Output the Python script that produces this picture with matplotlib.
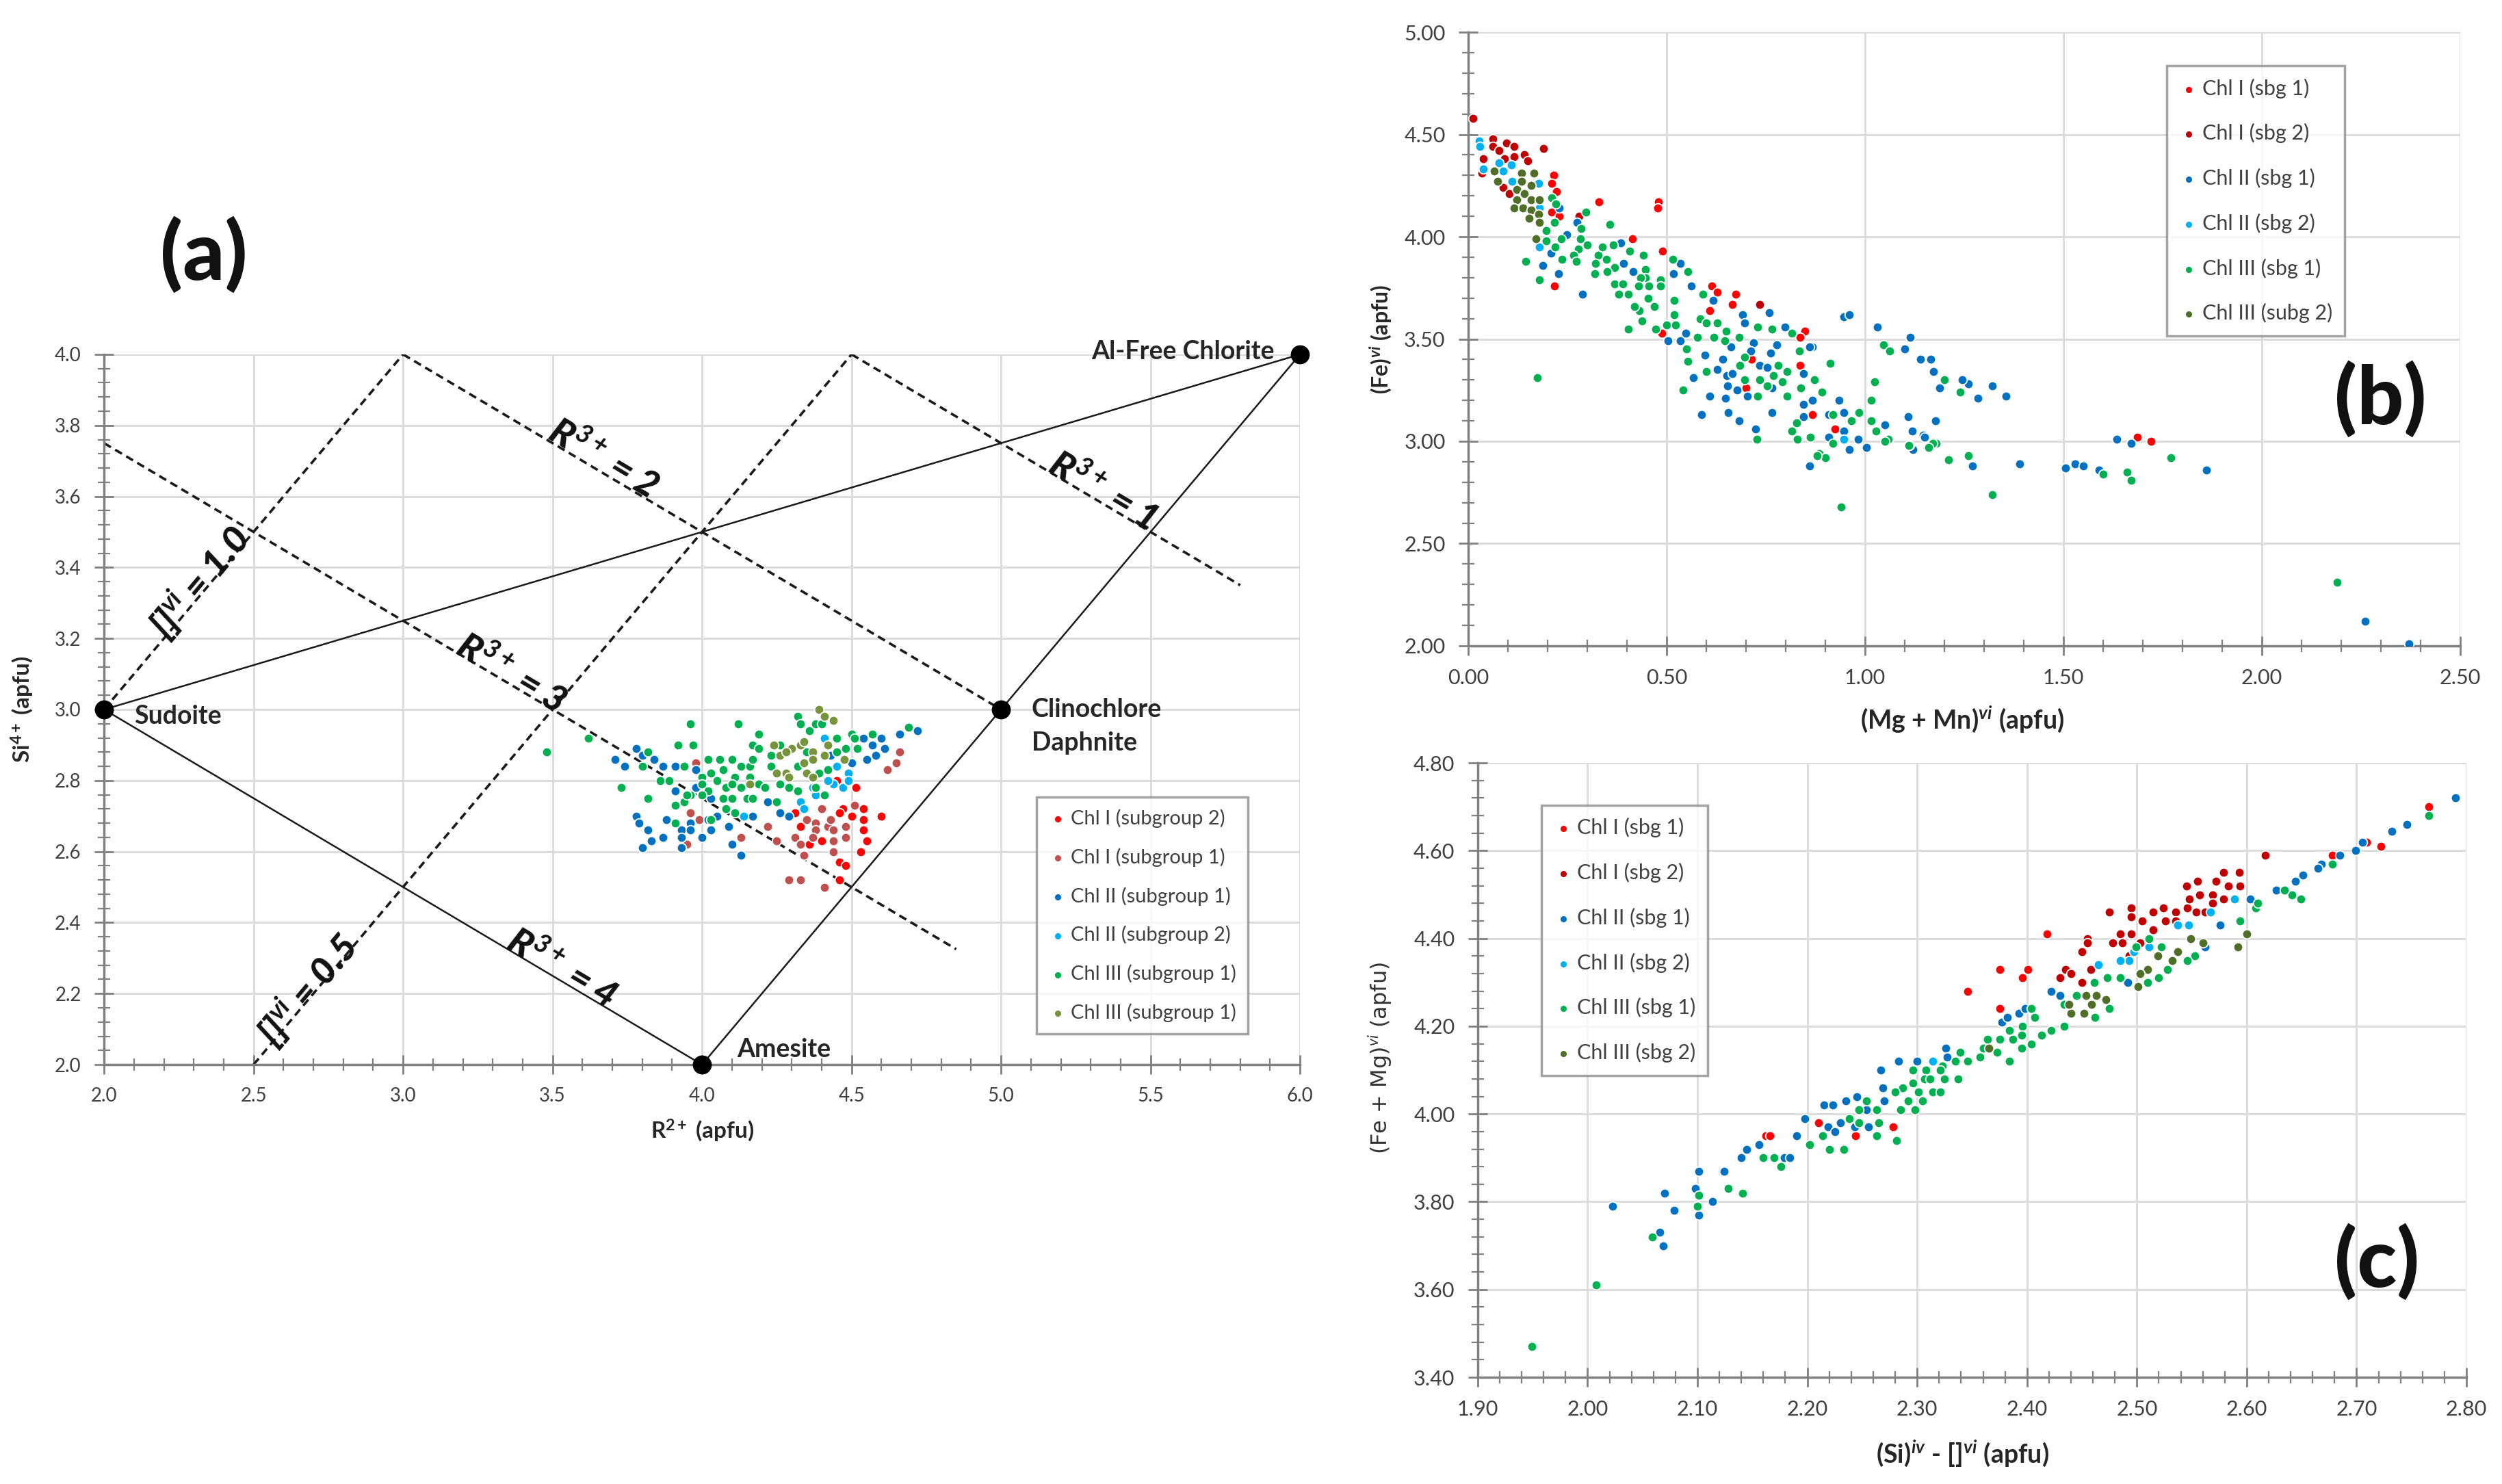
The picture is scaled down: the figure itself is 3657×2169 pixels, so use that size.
import numpy as np
import matplotlib
matplotlib.use("Agg")
import matplotlib.pyplot as plt
from matplotlib.ticker import MultipleLocator, FormatStrFormatter

plt.rcParams['font.family'] = ['Lato', 'DejaVu Sans']
plt.rcParams['mathtext.fontset'] = 'custom'
plt.rcParams['mathtext.rm'] = 'Lato'
plt.rcParams['mathtext.it'] = 'Lato:italic'
plt.rcParams['mathtext.bf'] = 'Lato:bold'
plt.rcParams['mathtext.bfit'] = 'Lato:bold:italic'

# ---------------- panel (a): R2+ vs Si4+ ----------------
a_chl1_sg2_x = [4.515, 4.47, 4.46, 4.50, 4.54, 4.54, 4.60, 4.54, 4.55, 4.53, 4.46, 4.48, 4.46, 4.31, 4.40, 4.36, 4.33, 4.45]
a_chl1_sg2_y = [2.78, 2.72, 2.71, 2.70, 2.72, 2.69, 2.70, 2.66, 2.63, 2.60, 2.57, 2.56, 2.52, 2.71, 2.63, 2.62, 2.67, 2.80]
a_chl1_sg1_x = [3.96, 3.99, 3.95, 4.22, 4.13, 4.25, 4.31, 4.33, 4.35, 4.34, 4.38, 4.42, 4.44, 4.48, 4.40, 4.43, 4.51, 4.48, 4.44, 4.38, 4.44, 4.29, 4.33, 4.41, 4.66, 4.65, 4.62, 3.98, 4.37]
a_chl1_sg1_y = [2.71, 2.69, 2.62, 2.67, 2.64, 2.63, 2.64, 2.62, 2.69, 2.59, 2.68, 2.67, 2.66, 2.67, 2.72, 2.69, 2.73, 2.64, 2.63, 2.66, 2.60, 2.52, 2.52, 2.50, 2.88, 2.85, 2.83, 2.85, 2.64]
a_chl2_sg1_x = [3.78, 3.80, 3.84, 3.71, 3.74, 3.87, 3.91, 3.98, 3.91, 3.78, 3.79, 3.88, 3.82, 3.83, 3.87, 3.80, 3.93, 3.93, 3.93, 3.96, 3.96, 4.00, 4.03, 4.02, 4.05, 4.09, 4.10, 4.13, 4.17, 4.22, 4.26, 4.29, 3.98, 4.03, 4.54, 4.57, 4.61, 4.60, 4.55, 4.58, 4.66, 4.72, 4.50, 4.43]
a_chl2_sg1_y = [2.89, 2.87, 2.86, 2.86, 2.84, 2.84, 2.84, 2.83, 2.77, 2.70, 2.68, 2.69, 2.66, 2.63, 2.64, 2.61, 2.66, 2.64, 2.61, 2.68, 2.66, 2.64, 2.66, 2.69, 2.70, 2.67, 2.62, 2.59, 2.70, 2.74, 2.71, 2.70, 2.78, 2.75, 2.92, 2.90, 2.89, 2.92, 2.86, 2.87, 2.93, 2.94, 2.85, 2.87]
a_chl2_sg2_x = [4.41, 4.45, 4.49, 4.47, 4.44, 4.42, 4.38, 4.33, 4.34, 4.37, 4.14, 4.49]
a_chl2_sg2_y = [2.92, 2.84, 2.82, 2.78, 2.79, 2.80, 2.76, 2.74, 2.72, 2.78, 2.70, 2.80]
a_chl3_sg1_x = [3.48, 3.62, 3.96, 4.12, 3.73, 3.82, 3.92, 3.97, 3.82, 3.80, 3.86, 3.89, 3.94, 3.91, 3.94, 3.91, 4.03, 4.02, 4.03, 4.00, 4.00, 4.06, 4.10, 4.13, 4.16, 4.17, 4.19, 4.17, 4.19, 4.23, 4.23, 4.26, 4.07, 4.11, 4.05, 4.08, 4.13, 4.10, 4.16, 4.19, 4.21, 4.26, 4.29, 4.32, 4.02, 4.00, 4.07, 4.10, 4.15, 4.17, 4.25, 4.11, 4.08, 4.32, 4.33, 4.36, 4.38, 4.40, 4.45, 4.50, 4.51, 4.57, 4.45, 4.48, 4.52, 4.42, 4.39, 4.38, 4.41, 4.32, 4.35, 4.69, 3.96, 3.95]
a_chl3_sg1_y = [2.88, 2.92, 2.96, 2.96, 2.78, 2.75, 2.90, 2.90, 2.88, 2.84, 2.80, 2.80, 2.84, 2.73, 2.74, 2.68, 2.69, 2.86, 2.82, 2.81, 2.79, 2.86, 2.86, 2.84, 2.84, 2.86, 2.93, 2.90, 2.89, 2.87, 2.84, 2.90, 2.83, 2.81, 2.80, 2.78, 2.78, 2.79, 2.81, 2.79, 2.78, 2.79, 2.78, 2.77, 2.77, 2.76, 2.75, 2.75, 2.75, 2.75, 2.74, 2.71, 2.72, 2.98, 2.96, 2.94, 2.96, 2.96, 2.92, 2.93, 2.92, 2.93, 2.88, 2.89, 2.89, 2.83, 2.82, 2.78, 2.76, 2.84, 2.88, 2.95, 2.76, 2.76]
a_chl3_sg1b_x = [4.39, 4.41, 4.44, 4.24, 4.30, 4.33, 4.34, 4.26, 4.28, 4.37, 4.41, 4.34, 4.37, 4.475, 4.42, 4.25, 4.28, 4.29, 4.35, 4.37, 4.16]
a_chl3_sg1b_y = [3.00, 2.98, 2.97, 2.90, 2.89, 2.90, 2.91, 2.87, 2.88, 2.88, 2.87, 2.85, 2.86, 2.86, 2.90, 2.82, 2.82, 2.81, 2.82, 2.81, 2.79]

# end members and reference lines of the diagram
end_names = ["Sudoite", "Amesite", "Clinochlore\nDaphnite", "Al-Free Chlorite"]
end_x = [2.0, 4.0, 5.0, 6.0]
end_y = [3.0, 2.0, 3.0, 4.0]
solid_lines = [((2.0, 3.0), (6.0, 4.0)), ((2.0, 3.0), (4.0, 2.0)), ((4.0, 2.0), (6.0, 4.0))]
dashed_lines = [((2.0, 3.0), (3.0, 4.0)), ((3.0, 4.0), (5.0, 3.0)), ((2.5, 2.0), (4.5, 4.0)),
                ((4.5, 4.0), (5.8, 3.35)), ((2.0, 3.75), (4.85, 2.325))]
line_labels = [r"R$^{\mathbfit{3+}}$ = 2", r"R$^{\mathbfit{3+}}$ = 1", r"R$^{\mathbfit{3+}}$ = 3",
               r"R$^{\mathbfit{3+}}$ = 4", r"[]$^{\mathbfit{vi}}$ = 1.0", r"[]$^{\mathbfit{vi}}$ = 0.5"]
label_x = [3.67, 5.34, 3.36, 3.53, 2.32, 2.68]
label_y = [3.705, 3.615, 3.10, 2.27, 3.36, 2.21]
label_slope = [-0.5, -0.5, -0.5, -0.5, 1.0, 1.0]

# ---------------- panel (b): (Mg+Mn) vs Fe ----------------
b_chl1_sg1_x = [0.215, 0.21, 0.223, 0.21, 0.23, 0.33, 0.48, 0.478, 0.414, 0.49, 0.218, 0.614, 0.627, 0.675, 0.665, 0.608, 0.848, 0.837, 0.837, 0.714, 0.70, 0.867, 0.488, 0.925, 1.686, 1.72]
b_chl1_sg1_y = [4.30, 4.26, 4.22, 4.12, 4.10, 4.17, 4.17, 4.14, 3.99, 3.93, 3.76, 3.76, 3.73, 3.72, 3.67, 3.64, 3.54, 3.51, 3.37, 3.40, 3.26, 3.13, 3.53, 3.06, 3.02, 3.00]
b_chl1_sg2_x = [0.012, 0.062, 0.096, 0.115, 0.062, 0.19, 0.038, 0.115, 0.142, 0.15, 0.092, 0.035, 0.088, 0.104, 0.077, 0.28, 0.735]
b_chl1_sg2_y = [4.58, 4.48, 4.46, 4.44, 4.44, 4.43, 4.38, 4.39, 4.40, 4.37, 4.38, 4.31, 4.24, 4.21, 4.42, 4.10, 3.67]
b_chl2_sg1_x = [0.275, 0.249, 0.23, 0.208, 0.188, 0.227, 0.288, 0.385, 0.392, 0.415, 0.518, 0.535, 0.562, 0.617, 0.692, 0.696, 0.758, 0.798, 0.946, 0.96, 1.032, 1.114, 1.10, 1.14, 1.165, 1.173,
                0.504, 0.535, 0.548, 0.662, 0.719, 0.712, 0.762, 0.777, 0.867, 0.596, 0.642, 0.627, 0.652, 0.665, 0.654, 0.677, 0.735, 0.754, 0.765, 0.567, 0.608, 0.648, 0.704, 0.588,
                0.655, 0.683, 0.725, 0.765, 0.845, 0.867, 0.935, 0.946, 0.845, 0.908, 0.946, 0.908, 0.983, 1.004, 0.96, 1.108, 1.178, 1.05, 1.119, 1.146, 1.123, 0.845, 1.188,
                1.86, 1.635, 1.67, 1.59, 1.505, 1.53, 1.55, 1.39, 1.27, 2.26, 2.37, 1.32, 1.355, 1.285, 1.26, 1.245, 0.86, 0.86, 1.15, 1.12]
b_chl2_sg1_y = [4.07, 4.01, 4.14, 3.92, 3.86, 3.82, 3.72, 3.97, 3.87, 3.83, 3.82, 3.87, 3.76, 3.69, 3.62, 3.58, 3.63, 3.56, 3.61, 3.62, 3.56, 3.51, 3.45, 3.40, 3.40, 3.34,
                3.49, 3.49, 3.53, 3.46, 3.48, 3.44, 3.43, 3.47, 3.46, 3.42, 3.40, 3.35, 3.32, 3.33, 3.27, 3.25, 3.37, 3.36, 3.26, 3.31, 3.22, 3.21, 3.22, 3.13,
                3.14, 3.10, 3.06, 3.14, 3.18, 3.20, 3.20, 3.14, 3.12, 3.13, 3.05, 3.02, 3.01, 2.97, 2.96, 3.12, 3.10, 3.08, 3.05, 3.03, 2.96, 3.33, 3.26,
                2.86, 3.01, 2.99, 2.86, 2.87, 2.89, 2.88, 2.89, 2.88, 2.12, 2.01, 3.27, 3.22, 3.21, 3.28, 3.30, 3.46, 2.88, 3.02, 2.96]
b_chl2_sg2_x = [0.027, 0.03, 0.038, 0.077, 0.108, 0.088, 0.111, 0.177, 0.18, 0.18, 0.946]
b_chl2_sg2_y = [4.47, 4.44, 4.33, 4.36, 4.35, 4.32, 4.27, 4.26, 4.14, 3.95, 3.01]
b_chl3_sg1_x = [0.21, 0.22, 0.296, 0.357, 0.217, 0.196, 0.285, 0.283, 0.235, 0.196, 0.219, 0.30, 0.277, 0.338, 0.365, 0.407, 0.442, 0.327, 0.348, 0.237, 0.265, 0.273, 0.321, 0.369, 0.35,
                0.319, 0.145, 0.18, 0.515, 0.554, 0.446, 0.446, 0.435, 0.485, 0.485, 0.456, 0.429, 0.369, 0.39, 0.38, 0.404, 0.454, 0.469, 0.431, 0.419, 0.438, 0.404, 0.473, 0.50,
                0.523, 0.519, 0.519, 0.592, 0.585, 0.60, 0.627, 0.577, 0.619, 0.646, 0.65, 0.683, 0.729, 0.765, 0.815, 0.55, 0.554, 0.542, 0.60, 0.685, 0.696, 0.696, 0.729, 0.735,
                0.754, 0.769, 0.781, 0.804, 0.792, 0.804, 0.835, 0.838, 0.873, 0.891, 0.912, 0.827, 0.815, 0.83, 0.862, 0.727, 0.919, 0.919, 0.965, 0.985, 1.015, 1.027, 1.058,
                1.015, 1.025, 1.046, 1.062, 1.112, 1.158, 1.18, 0.885, 0.174, 1.20, 1.24, 1.26, 1.21, 1.32, 1.60, 1.66, 1.67, 1.77, 2.19, 0.94, 0.90, 0.88, 1.11, 1.17, 1.16, 1.05]
b_chl3_sg1_y = [4.19, 4.16, 4.12, 4.06, 4.07, 4.03, 4.04, 3.99, 3.99, 3.98, 3.95, 3.96, 3.94, 3.95, 3.96, 3.93, 3.91, 3.91, 3.89, 3.89, 3.91, 3.88, 3.87, 3.85, 3.83,
                3.82, 3.88, 3.79, 3.89, 3.83, 3.84, 3.80, 3.80, 3.79, 3.76, 3.76, 3.76, 3.77, 3.77, 3.72, 3.72, 3.70, 3.66, 3.64, 3.66, 3.59, 3.55, 3.55, 3.57,
                3.57, 3.69, 3.62, 3.72, 3.60, 3.58, 3.58, 3.51, 3.51, 3.49, 3.54, 3.51, 3.56, 3.55, 3.53, 3.45, 3.39, 3.25, 3.34, 3.37, 3.41, 3.30, 3.22, 3.30,
                3.27, 3.32, 3.37, 3.34, 3.29, 3.22, 3.44, 3.26, 3.30, 3.24, 3.38, 3.09, 3.05, 3.01, 3.02, 3.01, 3.13, 2.99, 3.10, 3.14, 3.10, 3.05, 3.01,
                3.20, 3.29, 3.47, 3.44, 2.98, 2.97, 2.99, 2.94, 3.31, 3.30, 3.24, 2.93, 2.91, 2.74, 2.84, 2.85, 2.81, 2.92, 2.31, 2.68, 2.92, 2.93, 2.98, 2.99, 2.97, 3.00]
b_chl3_sg2_x = [0.065, 0.075, 0.135, 0.165, 0.123, 0.158, 0.142, 0.123, 0.158, 0.18, 0.115, 0.138, 0.158, 0.177, 0.154, 0.18, 0.17, 0.135]
b_chl3_sg2_y = [4.32, 4.27, 4.31, 4.31, 4.23, 4.25, 4.21, 4.18, 4.18, 4.18, 4.14, 4.14, 4.13, 4.11, 4.09, 4.07, 3.99, 4.27]

# ---------------- panel (c): (Si - []) vs (Fe + Mg) ----------------
c_chl1_sg1_x = [2.418, 2.375, 2.401, 2.396, 2.346, 2.375, 2.162, 2.166, 2.21, 2.244, 2.278, 2.766, 2.722, 2.709, 2.678]
c_chl1_sg1_y = [4.41, 4.33, 4.33, 4.31, 4.28, 4.24, 3.95, 3.95, 3.98, 3.95, 3.97, 4.70, 4.61, 4.62, 4.59]
c_chl1_sg2_x = [2.475, 2.495, 2.495, 2.455, 2.455, 2.45, 2.435, 2.43, 2.44, 2.45, 2.458, 2.478, 2.485, 2.495, 2.487, 2.505, 2.515, 2.524, 2.526, 2.535, 2.535, 2.546,
                2.545, 2.555, 2.548, 2.557, 2.554, 2.569, 2.579, 2.593, 2.572, 2.583, 2.594, 2.569, 2.579, 2.562, 2.515, 2.503, 2.493, 2.617]
c_chl1_sg2_y = [4.46, 4.47, 4.45, 4.40, 4.39, 4.37, 4.33, 4.31, 4.32, 4.30, 4.33, 4.39, 4.41, 4.41, 4.39, 4.44, 4.46, 4.47, 4.44, 4.46, 4.44, 4.47,
                4.52, 4.53, 4.49, 4.50, 4.46, 4.50, 4.55, 4.55, 4.53, 4.52, 4.52, 4.48, 4.49, 4.46, 4.42, 4.39, 4.36, 4.59]
c_chl2_sg1_x = [2.603, 2.576, 2.562, 2.492, 2.422, 2.43, 2.377, 2.382, 2.393, 2.398, 2.326, 2.327, 2.30, 2.283, 2.267, 2.269, 2.27, 2.245, 2.235, 2.215, 2.223, 2.198,
                2.219, 2.225, 2.23, 2.243, 2.256, 2.254, 2.19, 2.145, 2.14, 2.156, 2.179, 2.184, 2.101, 2.123, 2.023, 2.07, 2.066, 2.069, 2.079, 2.098, 2.101, 2.101,
                2.114, 2.124, 2.79, 2.746, 2.732, 2.705, 2.699, 2.685, 2.668, 2.665, 2.651, 2.644, 2.627, 2.603]
c_chl2_sg1_y = [4.49, 4.43, 4.38, 4.30, 4.28, 4.27, 4.21, 4.22, 4.23, 4.24, 4.15, 4.13, 4.12, 4.12, 4.10, 4.06, 4.03, 4.04, 4.03, 4.02, 4.02, 3.99,
                3.97, 3.96, 3.98, 3.97, 3.97, 4.01, 3.95, 3.92, 3.90, 3.93, 3.90, 3.90, 3.87, 3.87, 3.79, 3.82, 3.73, 3.70, 3.78, 3.83, 3.77, 3.87,
                3.80, 3.87, 4.72, 4.66, 4.645, 4.62, 4.60, 4.59, 4.57, 4.56, 4.545, 4.53, 4.51, 4.49]
c_chl2_sg2_x = [2.589, 2.567, 2.547, 2.537, 2.511, 2.497, 2.493, 2.485, 2.465, 2.314]
c_chl2_sg2_y = [4.49, 4.46, 4.43, 4.43, 4.38, 4.37, 4.35, 4.35, 4.34, 4.12]
c_chl3_sg1_x = [2.594, 2.608, 2.553, 2.546, 2.522, 2.511, 2.499, 2.528, 2.52, 2.51, 2.485, 2.473, 2.461, 2.475, 2.462, 2.445, 2.434, 2.434, 2.422, 2.413, 2.404,
                2.407, 2.396, 2.395, 2.404, 2.395, 2.384, 2.387, 2.375, 2.364, 2.36, 2.373, 2.357, 2.384, 2.346, 2.339, 2.335, 2.323, 2.321, 2.308, 2.307, 2.296, 2.312,
                2.325, 2.337, 2.314, 2.321, 2.301, 2.292, 2.305, 2.287, 2.28, 2.285, 2.298, 2.296, 2.254, 2.247, 2.238, 2.247, 2.263, 2.265, 2.263, 2.281, 2.214, 2.202,
                2.22, 2.233, 2.16, 2.17, 2.176, 1.949, 2.008, 2.059, 2.10, 2.101, 2.128, 2.141, 2.766, 2.678, 2.641, 2.649, 2.634, 2.61]
c_chl3_sg1_y = [4.44, 4.47, 4.36, 4.35, 4.38, 4.40, 4.38, 4.33, 4.31, 4.30, 4.31, 4.31, 4.30, 4.24, 4.22, 4.27, 4.25, 4.20, 4.19, 4.18, 4.24,
                4.22, 4.20, 4.18, 4.16, 4.15, 4.19, 4.17, 4.17, 4.17, 4.15, 4.14, 4.13, 4.12, 4.12, 4.14, 4.12, 4.11, 4.10, 4.10, 4.08, 4.07, 4.08,
                4.08, 4.08, 4.05, 4.05, 4.05, 4.03, 4.03, 4.06, 4.05, 4.01, 4.01, 4.10, 4.03, 4.01, 3.99, 3.98, 4.01, 3.98, 3.95, 3.94, 3.95, 3.93,
                3.92, 3.92, 3.90, 3.90, 3.88, 3.47, 3.61, 3.72, 3.79, 3.815, 3.83, 3.82, 4.68, 4.57, 4.50, 4.49, 4.51, 4.48]
c_chl3_sg2_x = [2.592, 2.60, 2.56, 2.549, 2.537, 2.532, 2.519, 2.51, 2.503, 2.501, 2.472, 2.463, 2.454, 2.459, 2.452, 2.44, 2.438, 2.365]
c_chl3_sg2_y = [4.38, 4.41, 4.39, 4.40, 4.37, 4.35, 4.36, 4.33, 4.32, 4.29, 4.26, 4.27, 4.27, 4.25, 4.23, 4.23, 4.25, 4.15]

# colours (Excel palette)
RED, DKRED, BROWN = '#FF0000', '#C00000', '#C0504D'
BLUE, LTBLUE = '#0070C0', '#00B0F0'
GREEN, OLIVE_A, OLIVE = '#00B050', '#77933C', '#4F6F28'

GRID = '#DCDCDC'
AXC = '#808080'
TXT = '#262626'

fig = plt.figure(figsize=(36.57, 21.69), dpi=100)


def excel_axes(rect, xlim, ylim, xmaj, xmin, ymaj, ymin, fmt, tsize):
    ax = fig.add_axes(rect)
    ax.set_xlim(*xlim)
    ax.set_ylim(*ylim)
    ax.xaxis.set_major_locator(MultipleLocator(xmaj))
    ax.xaxis.set_minor_locator(MultipleLocator(xmin))
    ax.yaxis.set_major_locator(MultipleLocator(ymaj))
    ax.yaxis.set_minor_locator(MultipleLocator(ymin))
    ax.xaxis.set_major_formatter(FormatStrFormatter(fmt))
    ax.yaxis.set_major_formatter(FormatStrFormatter(fmt))
    ax.grid(True, which='major', color=GRID, lw=2.2, zorder=0)
    ax.set_axisbelow(True)
    for s in ['top', 'right']:
        ax.spines[s].set_visible(False)
    for s in ['left', 'bottom']:
        ax.spines[s].set_color(AXC)
        ax.spines[s].set_linewidth(2.5)
    ax.tick_params(which='major', direction='inout', length=20, width=2, color=AXC,
                   labelsize=tsize, labelcolor='#404040', pad=14)
    ax.tick_params(which='minor', direction='inout', length=13, width=1.6, color=AXC)
    return ax


def dots(ax, x, y, c, label):
    ax.scatter(x, y, s=96, c=c, edgecolors='white', linewidths=1.3, label=label, zorder=3)


def legend(ax, x0, y0, size, spacing):
    lg = ax.legend(loc='upper left', bbox_to_anchor=(x0, y0), bbox_transform=fig.transFigure,
                   fontsize=size, frameon=True, fancybox=False, edgecolor='#8C8C8C',
                   handletextpad=0.2, labelspacing=spacing, borderpad=0.6, markerscale=0.8,
                   handlelength=0.9, borderaxespad=0)
    lg.get_frame().set_linewidth(2.5)
    for t in lg.get_texts():
        t.set_color('#404040')
    return lg


# ---------------- (a) ----------------
axa = excel_axes([0.0416, 0.2826, 0.478, 0.4786], (2.0, 6.0), (2.0, 4.0), 0.5, 0.1, 0.2, 0.04, '%.1f', 20)
for (p, q) in solid_lines:
    axa.plot([p[0], q[0]], [p[1], q[1]], color='#1a1a1a', lw=1.8, zorder=2)
for (p, q) in dashed_lines:
    axa.plot([p[0], q[0]], [p[1], q[1]], color='#1a1a1a', lw=2.6, ls=(0, (3.2, 2.0)), zorder=2)

dots(axa, a_chl1_sg2_x, a_chl1_sg2_y, RED, 'Chl I (subgroup 2)')
dots(axa, a_chl1_sg1_x, a_chl1_sg1_y, BROWN, 'Chl I (subgroup 1)')
dots(axa, a_chl2_sg1_x, a_chl2_sg1_y, BLUE, 'Chl II (subgroup 1)')
dots(axa, a_chl2_sg2_x, a_chl2_sg2_y, LTBLUE, 'Chl II (subgroup 2)')
dots(axa, a_chl3_sg1_x, a_chl3_sg1_y, GREEN, 'Chl III (subgroup 1)')
dots(axa, a_chl3_sg1b_x, a_chl3_sg1b_y, OLIVE_A, 'Chl III (subgroup 1)')

axa.plot(end_x, end_y, 'o', ms=19, color='black', ls='none', clip_on=False, zorder=5)
# label offsets (points) next to each end member
name_off = {"Sudoite": (32, -7, 'left'), "Amesite": (37, 16, 'left'), "Al-Free Chlorite": (-27, 3, 'right')}
for name, x, y in zip(end_names, end_x, end_y):
    if "\n" in name:
        for k, part in enumerate(name.split("\n")):
            axa.annotate(part, (x, y), xytext=(32, -35 * k), textcoords='offset points', ha='left',
                         va='center', fontsize=27, fontweight='bold', color=TXT)
    else:
        dx, dy, h = name_off[name]
        axa.annotate(name, (x, y), xytext=(dx, dy), textcoords='offset points', ha=h, va='center',
                     fontsize=27, fontweight='bold', color=TXT)

for txt, x, y, m in zip(line_labels, label_x, label_y, label_slope):
    p0 = axa.transData.transform((x, y))
    p1 = axa.transData.transform((x + 0.1, y + 0.1 * m))
    ang = np.degrees(np.arctan2(p1[1] - p0[1], p1[0] - p0[0]))
    axa.text(x, y, txt, rotation=ang, rotation_mode='anchor', ha='center', va='center',
             fontsize=39, fontweight='black', style='italic', color='#111111', zorder=4)

axa.set_xlabel(r'R$^{\mathbf{2+}}$ (apfu)', fontsize=24, fontweight='bold', color=TXT)
axa.set_ylabel(r'Si$^{\mathbf{4+}}$ (apfu)', fontsize=24, fontweight='bold', color=TXT)
axa.xaxis.set_label_coords(0.5, -0.075)
axa.yaxis.set_label_coords(-0.058, 0.5)
legend(axa, 0.4143, 0.4629, 21, 1.0)

# ---------------- (b) ----------------
axb = excel_axes([0.5868, 0.5648, 0.3965, 0.4135], (0.0, 2.5), (2.0, 5.0), 0.5, 0.1, 0.5, 0.1, '%.2f', 22)
dots(axb, b_chl1_sg1_x, b_chl1_sg1_y, RED, 'Chl I (sbg 1)')
dots(axb, b_chl1_sg2_x, b_chl1_sg2_y, DKRED, 'Chl I (sbg 2)')
dots(axb, b_chl2_sg1_x, b_chl2_sg1_y, BLUE, 'Chl II (sbg 1)')
dots(axb, b_chl2_sg2_x, b_chl2_sg2_y, LTBLUE, 'Chl II (sbg 2)')
dots(axb, b_chl3_sg1_x, b_chl3_sg1_y, GREEN, 'Chl III (sbg 1)')
dots(axb, b_chl3_sg2_x, b_chl3_sg2_y, OLIVE, 'Chl III (subg 2)')
axb.set_xlabel(r'(Mg + Mn)$^{\mathbfit{vi}}$ (apfu)', fontsize=27, fontweight='bold', color=TXT)
axb.set_ylabel(r'(Fe)$^{\mathbfit{vi}}$ (apfu)', fontsize=23, fontweight='bold', color=TXT)
axb.xaxis.set_label_coords(0.498, -0.095)
axb.yaxis.set_label_coords(-0.075, 0.5)
legend(axb, 0.866, 0.9557, 22, 1.2)

# ---------------- (c) ----------------
axc = excel_axes([0.5906, 0.0719, 0.3952, 0.414], (1.9, 2.8), (3.4, 4.8), 0.1, 0.02, 0.2, 0.04, '%.2f', 22)
dots(axc, c_chl1_sg1_x, c_chl1_sg1_y, RED, 'Chl I (sbg 1)')
dots(axc, c_chl1_sg2_x, c_chl1_sg2_y, DKRED, 'Chl I (sbg 2)')
dots(axc, c_chl2_sg1_x, c_chl2_sg1_y, BLUE, 'Chl II (sbg 1)')
dots(axc, c_chl2_sg2_x, c_chl2_sg2_y, LTBLUE, 'Chl II (sbg 2)')
dots(axc, c_chl3_sg1_x, c_chl3_sg1_y, GREEN, 'Chl III (sbg 1)')
dots(axc, c_chl3_sg2_x, c_chl3_sg2_y, OLIVE, 'Chl III (sbg 2)')
axc.set_xlabel(r'(Si)$^{\mathbfit{iv}}$ - []$^{\mathbfit{vi}}$ (apfu)', fontsize=27, fontweight='bold', color=TXT)
axc.set_ylabel('(Fe + Mg)$^{vi}$ (apfu)', fontsize=23, color='#333333', family='DejaVu Sans')
axc.xaxis.set_label_coords(0.49, -0.1)
axc.yaxis.set_label_coords(-0.085, 0.52)
legend(axc, 0.616, 0.4574, 22, 1.2)

# panel letters
fig.text(298 / 3657, 1 - 373 / 2169, '(a)', fontsize=86, fontweight='black', ha='center', va='center', color='#111111')
fig.text(3479 / 3657, 1 - 584 / 2169, '(b)', fontsize=86, fontweight='black', ha='center', va='center', color='#111111')
fig.text(3474 / 3657, 1 - 1845 / 2169, '(c)', fontsize=86, fontweight='black', ha='center', va='center', color='#111111')

fig.savefig('out.png', dpi=100, facecolor='white')
